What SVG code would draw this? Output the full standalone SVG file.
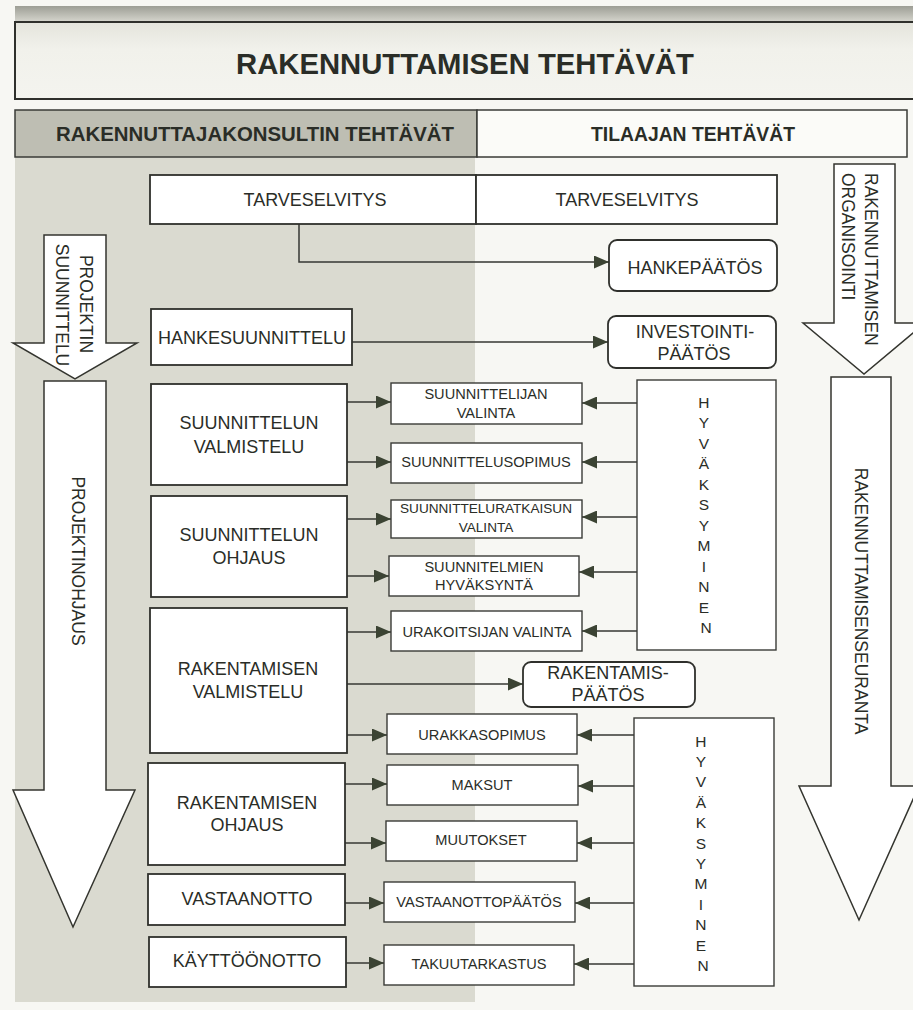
<svg xmlns="http://www.w3.org/2000/svg" width="913" height="1010" viewBox="0 0 913 1010">
  <defs>
    <linearGradient id="band" x1="0" y1="0" x2="0" y2="1">
      <stop offset="0" stop-color="#9d9e95"/>
      <stop offset="1" stop-color="#d2d2ca"/>
    </linearGradient>
    <linearGradient id="titleFill" x1="0" y1="0" x2="0" y2="1">
      <stop offset="0" stop-color="#e4e4dc"/>
      <stop offset="0.35" stop-color="#f1f1eb"/>
      <stop offset="1" stop-color="#f4f4ef"/>
    </linearGradient>
    <marker id="ah" viewBox="0 0 15 13" refX="15" refY="6.5" markerWidth="15" markerHeight="13" markerUnits="userSpaceOnUse" orient="auto">
      <path d="M0,0 L15,6.5 L0,13 z" fill="#3b4333"/>
    </marker>
    <style>
      text { font-family: "Liberation Sans", Arial, sans-serif; fill: #2a2d27; }
      .big { font-size: 18px; text-anchor: middle; }
      .sm { font-size: 14.6px; text-anchor: middle; }
      .xs { font-size: 13.6px; text-anchor: middle; }
      .hdr { font-weight: bold; text-anchor: middle; }
      .vert { font-size: 17.5px; }
      .letters { font-size: 15.5px; text-anchor: middle; }
      .box { fill: #ffffff; stroke: #2f302c; stroke-width: 1.8; }
      .sbox { fill: #ffffff; stroke: #3a3b37; stroke-width: 1.4; }
      .arrow { fill: #ffffff; stroke: #34352f; stroke-width: 1.5; stroke-linejoin: miter; }
      .conn path { fill: none; stroke: #363733; stroke-width: 1.5; marker-end: url(#ah); }
    </style>
  </defs>

  <!-- page and background panels -->
  <rect x="0" y="0" width="913" height="1010" fill="#f7f7f3"/>
  <rect x="15" y="6" width="898" height="15" fill="url(#band)"/>
  <rect x="15" y="157" width="460" height="845" fill="#dadad0"/>

  <!-- title -->
  <g id="title">
    <rect x="15" y="22" width="905" height="77" fill="url(#titleFill)" stroke="#2f302c" stroke-width="2"/>
    <text class="hdr" x="465" y="74" font-size="30" textLength="458" lengthAdjust="spacingAndGlyphs">RAKENNUTTAMISEN TEHTÄVÄT</text>
  </g>

  <!-- column headers -->
  <g id="header-consultant">
    <rect x="15" y="110" width="462" height="47" fill="#bebeb3" stroke="#3a3b37" stroke-width="1.5"/>
    <text class="hdr" x="255" y="141" font-size="21" textLength="398" lengthAdjust="spacingAndGlyphs">RAKENNUTTAJAKONSULTIN TEHTÄVÄT</text>
  </g>
  <g id="header-client">
    <rect x="477" y="110" width="430" height="47" fill="#fbfbf8" stroke="#3a3b37" stroke-width="1.5"/>
    <text class="hdr" x="693" y="141" font-size="21" textLength="204" lengthAdjust="spacingAndGlyphs">TILAAJAN TEHTÄVÄT</text>
  </g>

  <!-- side arrows -->
  <g id="arrow-projektin-suunnittelu">
    <polygon class="arrow" points="44,235 106,235 106,343 137,343 75,379 13,343 44,343"/>
    <text class="vert" transform="translate(80,304) rotate(90)" text-anchor="middle">PROJEKTIN</text>
    <text class="vert" transform="translate(56,305) rotate(90)" text-anchor="middle">SUUNNITTELU</text>
  </g>
  <g id="arrow-projektinohjaus">
    <polygon class="arrow" points="44,381 106,381 106,790 135,790 73,927 13,790 44,790"/>
    <text class="vert" transform="translate(72,561) rotate(90)" text-anchor="middle">PROJEKTINOHJAUS</text>
  </g>
  <g id="arrow-organisointi">
    <polygon class="arrow" points="834,164 895,164 895,323 925,323 864,374 803,323 834,323"/>
    <text class="vert" transform="translate(865,173) rotate(90)">RAKENNUTTAMISEN</text>
    <text class="vert" transform="translate(842,173) rotate(90)">ORGANISOINTI</text>
  </g>
  <g id="arrow-seuranta">
    <polygon class="arrow" points="831,377 891,377 891,786 919,786 859,920 799,786 831,786"/>
    <text class="vert" transform="translate(855,601) rotate(90)" text-anchor="middle">RAKENNUTTAMISENSEURANTA</text>
  </g>

  <!-- connectors -->
  <g id="connectors" class="conn">
    <path d="M299,224 V262 H609"/>
    <path d="M352,342 H608"/>
    <path d="M347,402 H391"/>
    <path d="M347,462 H391"/>
    <path d="M347,519 H391"/>
    <path d="M347,576 H389"/>
    <path d="M347,632 H391"/>
    <path d="M347,684 H523"/>
    <path d="M333,735 H387"/>
    <path d="M345,784 H387"/>
    <path d="M345,843 H386"/>
    <path d="M345,903 H384"/>
    <path d="M345,963 H384"/>
    <path d="M637,403 H582"/>
    <path d="M637,462 H582"/>
    <path d="M637,517 H582"/>
    <path d="M637,572 H579"/>
    <path d="M637,631 H582"/>
    <path d="M634,735 H577"/>
    <path d="M634,786 H578"/>
    <path d="M634,843 H577"/>
    <path d="M634,903 H575"/>
    <path d="M634,964 H574"/>
  </g>

  <!-- consultant tasks -->
  <g id="tarveselvitys-konsultti">
    <rect class="box" x="150" y="175" width="326" height="49"/>
    <text class="big" x="315" y="206">TARVESELVITYS</text>
  </g>
  <g id="tarveselvitys-tilaaja">
    <rect class="box" x="476" y="175" width="301" height="49"/>
    <text class="big" x="627" y="206">TARVESELVITYS</text>
  </g>
  <g id="hankepaatos">
    <rect class="box" x="609" y="240" width="168" height="51" rx="8"/>
    <text class="big" x="695" y="274">HANKEPÄÄTÖS</text>
  </g>
  <g id="hankesuunnittelu">
    <rect class="box" x="151" y="309" width="201" height="56"/>
    <text class="big" x="252" y="344">HANKESUUNNITTELU</text>
  </g>
  <g id="investointipaatos">
    <rect class="box" x="608" y="316" width="168" height="52" rx="8"/>
    <text class="big" x="695" y="338">INVESTOINTI-</text>
    <text class="big" x="694" y="360">PÄÄTÖS</text>
  </g>
  <g id="suunnittelun-valmistelu">
    <rect class="box" x="151" y="384" width="196" height="101"/>
    <text class="big" x="249" y="429">SUUNNITTELUN</text>
    <text class="big" x="249" y="453">VALMISTELU</text>
  </g>
  <g id="suunnittelun-ohjaus">
    <rect class="box" x="151" y="496" width="196" height="101"/>
    <text class="big" x="249" y="541">SUUNNITTELUN</text>
    <text class="big" x="249" y="564">OHJAUS</text>
  </g>
  <g id="rakentamisen-valmistelu">
    <rect class="box" x="150" y="608" width="197" height="145"/>
    <text class="big" x="248" y="675">RAKENTAMISEN</text>
    <text class="big" x="248" y="698">VALMISTELU</text>
  </g>
  <g id="rakentamisen-ohjaus">
    <rect class="box" x="148" y="763" width="197" height="102"/>
    <text class="big" x="247" y="809">RAKENTAMISEN</text>
    <text class="big" x="247" y="831">OHJAUS</text>
  </g>
  <g id="vastaanotto">
    <rect class="box" x="148" y="874" width="197" height="51"/>
    <text class="big" x="247" y="905">VASTAANOTTO</text>
  </g>
  <g id="kayttoonotto">
    <rect class="box" x="149" y="937" width="197" height="50"/>
    <text class="big" x="247" y="967">KÄYTTÖÖNOTTO</text>
  </g>

  <!-- decisions -->
  <g id="suunnittelijan-valinta">
    <rect class="sbox" x="391" y="383" width="191" height="41"/>
    <text class="sm" x="486" y="399">SUUNNITTELIJAN</text>
    <text class="sm" x="486" y="418">VALINTA</text>
  </g>
  <g id="suunnittelusopimus">
    <rect class="sbox" x="391" y="443" width="191" height="40"/>
    <text class="sm" x="486" y="467">SUUNNITTELUSOPIMUS</text>
  </g>
  <g id="suunnitteluratkaisun-valinta">
    <rect class="sbox" x="391" y="500" width="191" height="38"/>
    <text class="xs" x="486" y="513">SUUNNITTELURATKAISUN</text>
    <text class="xs" x="486" y="532">VALINTA</text>
  </g>
  <g id="suunnitelmien-hyvaksynta">
    <rect class="sbox" x="389" y="556" width="190" height="40"/>
    <text class="sm" x="484" y="572">SUUNNITELMIEN</text>
    <text class="sm" x="484" y="590">HYVÄKSYNTÄ</text>
  </g>
  <g id="urakoitsijan-valinta">
    <rect class="sbox" x="391" y="611" width="191" height="40"/>
    <text class="sm" x="487" y="637">URAKOITSIJAN VALINTA</text>
  </g>
  <g id="rakentamispaatos">
    <rect class="box" x="523" y="662" width="172" height="45" rx="8"/>
    <text class="big" x="608" y="679" font-size="16.5">RAKENTAMIS-</text>
    <text class="big" x="608" y="701" font-size="16.5">PÄÄTÖS</text>
  </g>
  <g id="urakkasopimus">
    <rect class="sbox" x="387" y="714" width="190" height="40"/>
    <text class="sm" x="482" y="740">URAKKASOPIMUS</text>
  </g>
  <g id="maksut">
    <rect class="sbox" x="387" y="765" width="191" height="40"/>
    <text class="sm" x="482" y="790">MAKSUT</text>
  </g>
  <g id="muutokset">
    <rect class="sbox" x="386" y="821" width="191" height="40"/>
    <text class="sm" x="481" y="845">MUUTOKSET</text>
  </g>
  <g id="vastaanottopaatos">
    <rect class="sbox" x="384" y="882" width="191" height="40"/>
    <text class="sm" x="479" y="907">VASTAANOTTOPÄÄTÖS</text>
  </g>
  <g id="takuutarkastus">
    <rect class="sbox" x="384" y="945" width="190" height="40"/>
    <text class="sm" x="479" y="969">TAKUUTARKASTUS</text>
  </g>

  <!-- approval columns -->
  <g id="hyvaksyminen-suunnittelu">
    <rect class="sbox" x="637" y="380" width="139" height="270"/>
    <text class="letters">
      <tspan x="706" y="407.5">H</tspan>
      <tspan x="706" y="428">Y</tspan>
      <tspan x="706" y="448.5">V</tspan>
      <tspan x="706" y="469">Ä</tspan>
      <tspan x="706" y="489.5">K</tspan>
      <tspan x="706" y="510">S</tspan>
      <tspan x="706" y="530.5">Y</tspan>
      <tspan x="706" y="551">M</tspan>
      <tspan x="706" y="571.5">I</tspan>
      <tspan x="706" y="592">N</tspan>
      <tspan x="706" y="612.5">E</tspan>
      <tspan x="706" y="633">N</tspan>
    </text>
  </g>
  <g id="hyvaksyminen-rakentaminen">
    <rect class="sbox" x="634" y="718" width="140" height="268"/>
    <text class="letters">
      <tspan x="703" y="746.5">H</tspan>
      <tspan x="703" y="766.9">Y</tspan>
      <tspan x="703" y="787.3">V</tspan>
      <tspan x="703" y="807.7">Ä</tspan>
      <tspan x="703" y="828.1">K</tspan>
      <tspan x="703" y="848.5">S</tspan>
      <tspan x="703" y="868.9">Y</tspan>
      <tspan x="703" y="889.3">M</tspan>
      <tspan x="703" y="909.7">I</tspan>
      <tspan x="703" y="930.1">N</tspan>
      <tspan x="703" y="950.5">E</tspan>
      <tspan x="703" y="970.9">N</tspan>
    </text>
  </g>
</svg>
